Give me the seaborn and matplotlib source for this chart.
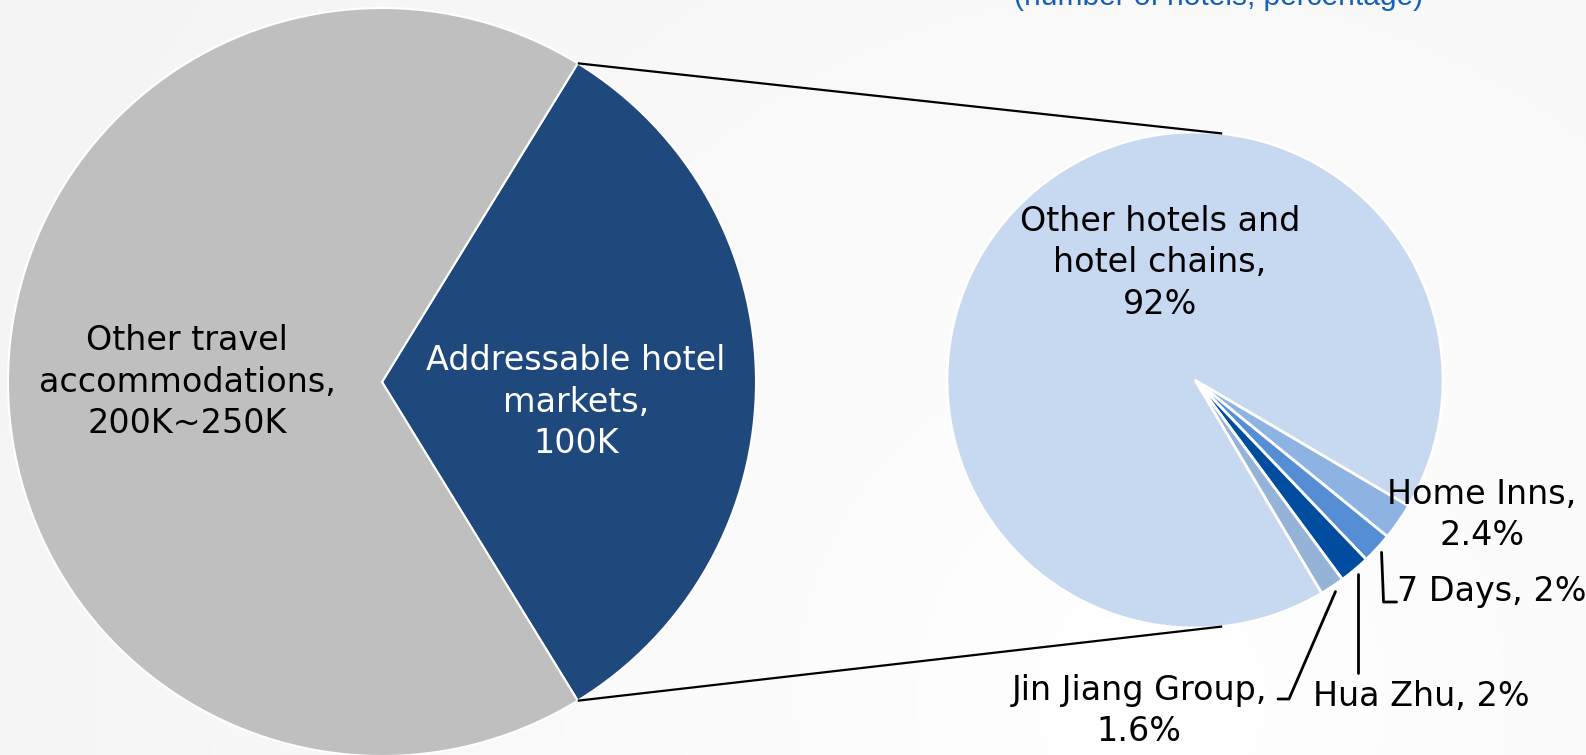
import numpy as np
import matplotlib
matplotlib.use("Agg")
import matplotlib.pyplot as plt
import seaborn as sns

# ---------------- data ----------------
left_labels = ["Addressable hotel\nmarkets,\n100K", "Other travel\naccommodations,\n200K~250K"]
left_values = [100, 208]
right_labels = ["Home Inns,\n2.4%", "7 Days, 2%", "Hua Zhu, 2%",
                "Jin Jiang Group,\n1.6%", "Other hotels and\nhotel chains,\n92%"]
right_values = [2.4, 2.0, 2.0, 1.6, 92.0]
subtitle = "(number of hotels, percentage)"

# ---------------- style ----------------
sns.set_theme(style="white")
plt.rcParams["font.family"] = ["DejaVu Sans"]

left_colors = sns.color_palette(["#1F497D", "#BFBFBF"])
right_colors = sns.color_palette(["#8DB3E2", "#558ED5", "#004DA0", "#95B3D7", "#C6D9F1"])

W, H = 1586, 755
fig = plt.figure(figsize=(W / 100, H / 100), dpi=100)
ax = fig.add_axes([0, 0, 1, 1])

# background gradient
yy, xx = np.mgrid[0:H:4, 0:W:4]
d = np.hypot(xx - 1150, (H - yy) - 700)
g = 1 - 0.04 * np.clip(d / 1200, 0, 1)
bg = np.dstack([g, g, g])
ax.imshow(bg, extent=[0, W, 0, H], origin="lower", aspect="auto", zorder=0, interpolation="bilinear")

# left pie
lc, lr = (382, 373), 374
frac = left_values[0] / sum(left_values)
wl, _ = ax.pie(left_values, colors=left_colors, startangle=-frac * 180, counterclock=True,
               center=lc, radius=lr, frame=True,
               wedgeprops=dict(edgecolor="white", linewidth=1.5, zorder=2))

# right pie
rc, rr = (1195, 375), 248
wr, _ = ax.pie(right_values, colors=right_colors, startangle=-30.5, counterclock=False,
               center=rc, radius=rr, frame=True,
               wedgeprops=dict(edgecolor="white", linewidth=2, zorder=2))

ax.set_xlim(0, W)
ax.set_ylim(0, H)
ax.set_aspect("auto")
ax.axis("off")

# connector lines between pies
t1, t2 = np.deg2rad(wl[0].theta1), np.deg2rad(wl[0].theta2)
for t_left, t_right in [(t2, np.deg2rad(83.7)), (t1, np.deg2rad(-83.7))]:
    x0, y0 = lc[0] + lr * np.cos(t_left), lc[1] + lr * np.sin(t_left)
    x1, y1 = rc[0] + rr * np.cos(t_right), rc[1] + rr * np.sin(t_right)
    ax.plot([x0, x1], [y0, y1], color="black", lw=1.6, zorder=3, solid_capstyle="butt")

fs = 24
ls = 1.33
kw = dict(fontsize=fs, linespacing=ls, zorder=4, va="center")
ax.text(187, 373, left_labels[1], ha="center", color="black", **kw)
ax.text(576, 353, left_labels[0], ha="center", color="white", **kw)
ax.text(1160, 492, right_labels[4], ha="center", color="black", **kw)
ax.text(1482, 240, right_labels[0], ha="center", color="black", **kw)
ax.text(1397, 164, right_labels[1], ha="left", color="black", **kw)
ax.text(1421, 59, right_labels[2], ha="center", color="black", **kw)
ax.text(1139, 44, right_labels[3], ha="center", color="black", **kw)

# leader lines from wedge edge
def edge_pt(w, r_extra=6):
    m = np.deg2rad((w.theta1 + w.theta2) / 2)
    return rc[0] + (rr + r_extra) * np.cos(m), rc[1] + (rr + r_extra) * np.sin(m)

lw_lead = 2
x, y = edge_pt(wr[1])
ax.plot([x, x + 2, x + 15], [y, 153, 153], color="black", lw=lw_lead, zorder=4)
x, y = edge_pt(wr[2])
ax.plot([x, x], [y, 82], color="black", lw=lw_lead, zorder=4)
x, y = edge_pt(wr[3])
ax.plot([x, 1289, 1278], [y, 56, 56], color="black", lw=lw_lead, zorder=4)

ax.text(1219, 750, subtitle, ha="center", va="baseline", fontsize=21.5,
        color="#1560B8", family=["Liberation Sans", "DejaVu Sans"], zorder=4)

fig.savefig("out.png", dpi=100)
